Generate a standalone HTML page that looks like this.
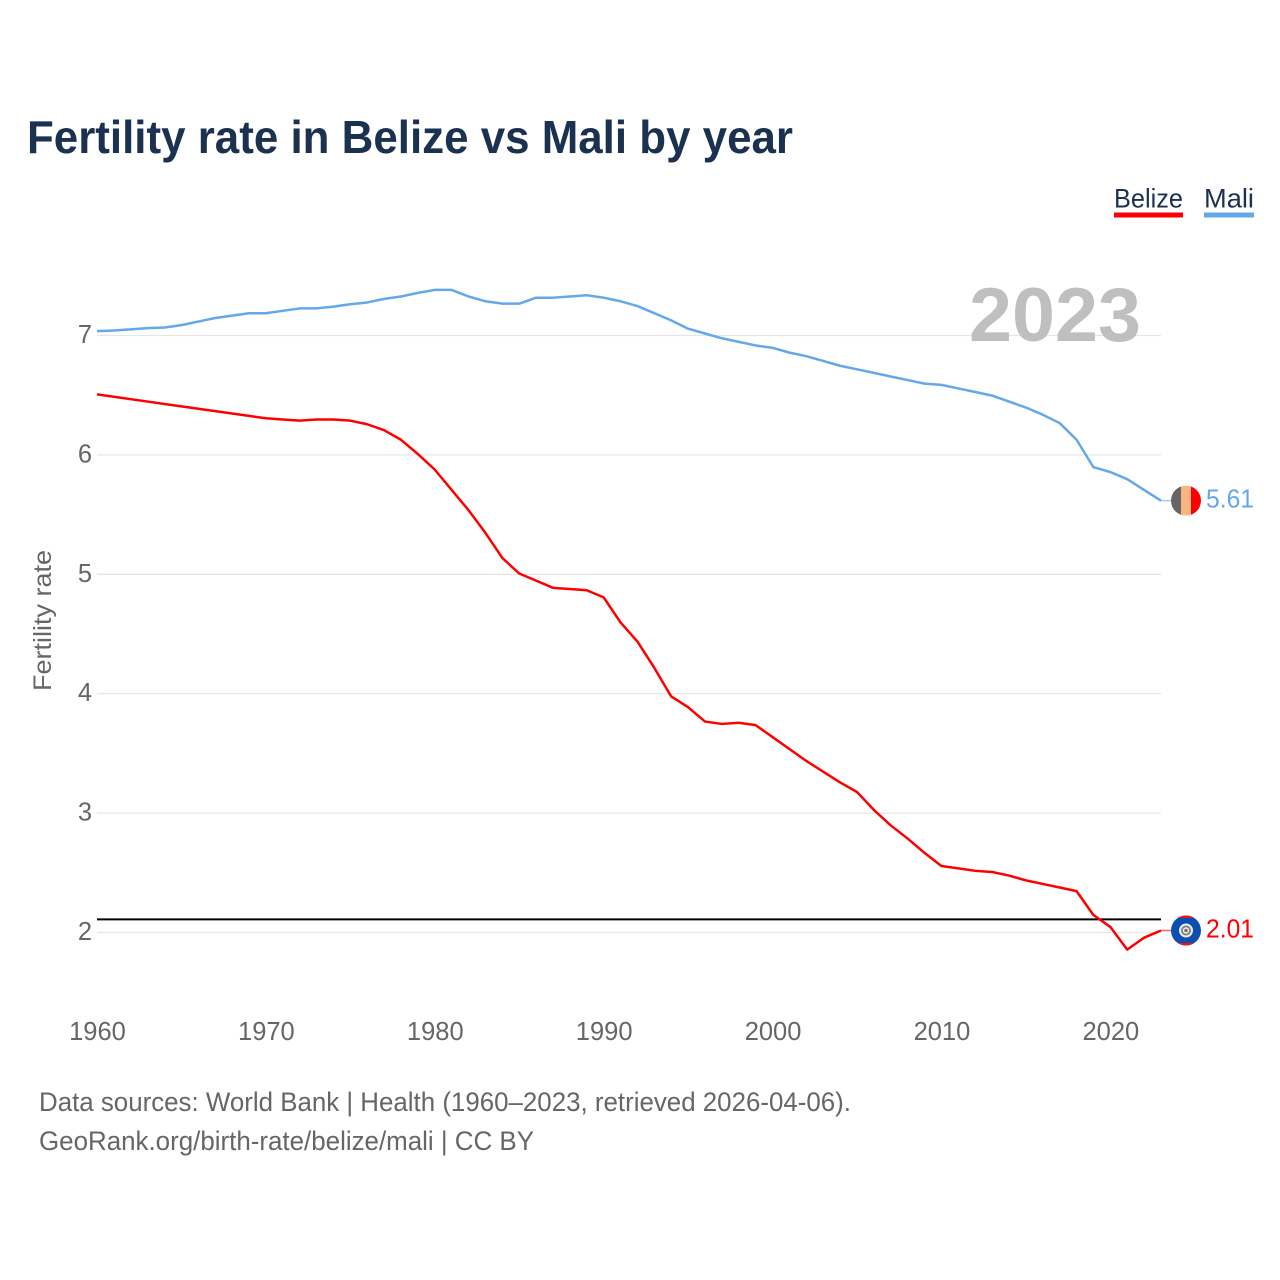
<!DOCTYPE html>
<html lang="en">
<head>
<meta charset="utf-8">
<title>Fertility rate in Belize vs Mali by year</title>
<style>
html,body{margin:0;padding:0;background:#fff;width:1280px;height:1280px;overflow:hidden}
svg{display:block}
text{font-family:"Liberation Sans",sans-serif}
</style>
</head>
<body>
<svg id="chart" xmlns="http://www.w3.org/2000/svg" width="1280" height="1280" viewBox="0 0 1280 1280">
  <defs>
    <clipPath id="flag-clip"><circle cx="0" cy="0" r="15"></circle></clipPath>
  </defs>
  <rect x="0" y="0" width="1280" height="1280" fill="#ffffff"></rect>
  <text x="27" y="153" font-size="46" font-weight="700" fill="#1a3150" textLength="766" lengthAdjust="spacingAndGlyphs">Fertility rate in Belize vs Mali by year</text>

  <g>
    <g>
      <text x="1114" y="207.5" font-size="27" fill="#1a3150" textLength="69" lengthAdjust="spacingAndGlyphs">Belize</text>
      <rect x="1114" y="212.5" width="69" height="5" fill="#ff0000"></rect>
    </g>
    <g>
      <text x="1204" y="207.5" font-size="27" fill="#1a3150" textLength="50" lengthAdjust="spacingAndGlyphs">Mali</text>
      <rect x="1204" y="212.5" width="50" height="5" fill="#64a8ea"></rect>
    </g>
  </g>

  <g id="grid"></g>
  <g id="y-axis"></g>
  <g id="x-axis"></g>

  <text transform="translate(51 620.5) rotate(-90)" text-anchor="middle" font-size="25" fill="#666666" textLength="141" lengthAdjust="spacingAndGlyphs">Fertility rate</text>

  <text x="969" y="341" font-size="76" font-weight="700" fill="#bfbfbf" textLength="172" lengthAdjust="spacingAndGlyphs">2023</text>

  <g id="reference"></g>
  <g id="series"></g>

  <g id="flag-mali">
    <g clip-path="url(#flag-clip)">
      <rect x="-15" y="-15" width="10" height="30" fill="#666666"></rect>
      <rect x="-5" y="-15" width="10" height="30" fill="#fbb583"></rect>
      <rect x="5" y="-15" width="10" height="30" fill="#ff0000"></rect>
    </g>
  </g>
  <g id="flag-belize">
    <g clip-path="url(#flag-clip)">
      <rect x="-15" y="-15" width="30" height="30" fill="#0b4fb0"></rect>
      <rect x="-15" y="-15" width="30" height="2.5" fill="#e8141c"></rect>
      <rect x="-15" y="12.5" width="30" height="2.5" fill="#e8141c"></rect>
      <circle cx="0" cy="0" r="7" fill="#e9ecef"></circle>
      <circle cx="0" cy="0" r="5" fill="#7a7f80"></circle>
      <circle cx="0" cy="0" r="3.2" fill="#f4f1ea"></circle>
      <rect x="-1.6" y="-1.6" width="3.2" height="3.2" fill="#8a6a4f"></rect>
    </g>
  </g>

  <g>
    <text x="39" y="1111" font-size="27" fill="#666666" textLength="812" lengthAdjust="spacingAndGlyphs">Data sources: World Bank | Health (1960–2023, retrieved 2026-04-06).</text>
    <text x="39" y="1150" font-size="27" fill="#666666" textLength="495" lengthAdjust="spacingAndGlyphs">GeoRank.org/birth-rate/belize/mali | CC BY</text>
  </g>
</svg>

<script>
const years = [1960,1961,1962,1963,1964,1965,1966,1967,1968,1969,
  1970,1971,1972,1973,1974,1975,1976,1977,1978,1979,
  1980,1981,1982,1983,1984,1985,1986,1987,1988,1989,
  1990,1991,1992,1993,1994,1995,1996,1997,1998,1999,
  2000,2001,2002,2003,2004,2005,2006,2007,2008,2009,
  2010,2011,2012,2013,2014,2015,2016,2017,2018,2019,
  2020,2021,2022,2023];
const belize = [6.50,6.48,6.46,6.44,6.42,6.40,6.38,6.36,6.34,6.32,
  6.30,6.29,6.28,6.29,6.29,6.28,6.25,6.20,6.12,6.00,
  5.87,5.70,5.53,5.34,5.13,5.00,4.94,4.88,4.87,4.86,
  4.80,4.59,4.43,4.21,3.97,3.88,3.76,3.74,3.75,3.73,
  3.63,3.53,3.43,3.34,3.25,3.17,3.02,2.89,2.78,2.66,
  2.55,2.53,2.51,2.50,2.47,2.43,2.40,2.37,2.34,2.14,
  2.04,1.85,1.95,2.01];
const mali = [7.03,7.035,7.045,7.055,7.06,7.08,7.11,7.14,7.16,7.18,
  7.18,7.20,7.22,7.22,7.235,7.255,7.27,7.30,7.32,7.35,
  7.375,7.375,7.32,7.28,7.26,7.26,7.31,7.31,7.32,7.33,
  7.31,7.28,7.24,7.18,7.12,7.05,7.01,6.97,6.94,6.91,
  6.89,6.85,6.82,6.78,6.74,6.71,6.68,6.65,6.62,6.59,
  6.58,6.55,6.52,6.49,6.44,6.39,6.33,6.26,6.12,5.89,
  5.85,5.79,5.70,5.61];
const yTicks = [2,3,4,5,6,7];
const xTicks = [1960,1970,1980,1990,2000,2010,2020];
const replacementRate = 2.11;

const NS = 'http://www.w3.org/2000/svg';
const xScale = year => 97 + (year - 1960) * (1161 - 97) / 63;
const yScale = value => 932.5 - (value - 2) * (932.5 - 335.5) / 5;
const lineY = value => yScale(value) - 0.8;

function make(tag, parentId) {
  const el = document.createElementNS(NS, tag);
  document.getElementById(parentId).appendChild(el);
  return el;
}

yTicks.forEach(tick => {
  const line = make('line', 'grid');
  
  
  line.setAttribute('x1', xScale(years[0]));
  line.setAttribute('x2', xScale(years[years.length - 1]));
  line.setAttribute('y1', yScale(tick));
  line.setAttribute('y2', yScale(tick));
  line.setAttribute('stroke', '#e6e6e6');
  line.setAttribute('stroke-width', '1.3');

  const label = make('text', 'y-axis');
  
  
  label.setAttribute('x', 92);
  label.setAttribute('y', yScale(tick) + 7.5);
  label.setAttribute('text-anchor', 'end');
  label.setAttribute('font-size', '25.5');
  label.setAttribute('fill', '#666666');
  label.textContent = tick;
});

xTicks.forEach(tick => {
  const label = make('text', 'x-axis');
  
  
  label.setAttribute('x', xScale(tick) + 0.5);
  label.setAttribute('y', 1040);
  label.setAttribute('text-anchor', 'middle');
  label.setAttribute('font-size', '25.5');
  label.setAttribute('fill', '#666666');
  label.textContent = tick;
});

const refLine = make('line', 'reference');


refLine.setAttribute('x1', xScale(years[0]));
refLine.setAttribute('x2', xScale(years[years.length - 1]));
refLine.setAttribute('y1', yScale(replacementRate));
refLine.setAttribute('y2', yScale(replacementRate));
refLine.setAttribute('stroke', '#000000');
refLine.setAttribute('stroke-width', '2');

function linePoints(values) {
  return values.map((v, i) => xScale(years[i]).toFixed(2) + ',' + lineY(v).toFixed(2)).join(' ');
}

const markerX = 1186;
const lastYear = years[years.length - 1];

const maliPath = make('polyline', 'series');


maliPath.setAttribute('points', linePoints(mali));
maliPath.setAttribute('fill', 'none');
maliPath.setAttribute('stroke', '#64a8ea');
maliPath.setAttribute('stroke-width', '2.5');
maliPath.setAttribute('stroke-linejoin', 'round');

const belizePath = make('polyline', 'series');


belizePath.setAttribute('points', linePoints(belize));
belizePath.setAttribute('fill', 'none');
belizePath.setAttribute('stroke', '#ff0000');
belizePath.setAttribute('stroke-width', '2.5');
belizePath.setAttribute('stroke-linejoin', 'round');

const maliLast = mali[mali.length - 1];
const belizeLast = belize[belize.length - 1];

const maliConnector = make('line', 'series');


maliConnector.setAttribute('x1', xScale(lastYear));
maliConnector.setAttribute('x2', markerX);
maliConnector.setAttribute('y1', lineY(maliLast));
maliConnector.setAttribute('y2', lineY(maliLast));
maliConnector.setAttribute('stroke', '#64a8ea');
maliConnector.setAttribute('stroke-opacity', '0.6');
maliConnector.setAttribute('stroke-width', '1.5');

const belizeConnector = make('line', 'series');


belizeConnector.setAttribute('x1', xScale(lastYear));
belizeConnector.setAttribute('x2', markerX);
belizeConnector.setAttribute('y1', lineY(belizeLast));
belizeConnector.setAttribute('y2', lineY(belizeLast));
belizeConnector.setAttribute('stroke', '#ff0000');
belizeConnector.setAttribute('stroke-opacity', '0.6');
belizeConnector.setAttribute('stroke-width', '1.5');

document.getElementById('flag-mali').setAttribute('transform', 'translate(' + markerX + ' ' + lineY(maliLast) + ')');
document.getElementById('flag-belize').setAttribute('transform', 'translate(' + markerX + ' ' + lineY(belizeLast) + ')');

const maliValue = make('text', 'series');


maliValue.setAttribute('x', 1206);
maliValue.setAttribute('y', lineY(maliLast) + 7);
maliValue.setAttribute('font-size', '25.5');
maliValue.setAttribute('fill', '#64a8ea');
maliValue.setAttribute('textLength', '48');
maliValue.setAttribute('lengthAdjust', 'spacingAndGlyphs');
maliValue.textContent = maliLast.toFixed(2);

const belizeValue = make('text', 'series');


belizeValue.setAttribute('x', 1206);
belizeValue.setAttribute('y', lineY(belizeLast) + 7);
belizeValue.setAttribute('font-size', '25.5');
belizeValue.setAttribute('fill', '#ff0000');
belizeValue.setAttribute('textLength', '48');
belizeValue.setAttribute('lengthAdjust', 'spacingAndGlyphs');
belizeValue.textContent = belizeLast.toFixed(2);
</script>
</body>
</html>
